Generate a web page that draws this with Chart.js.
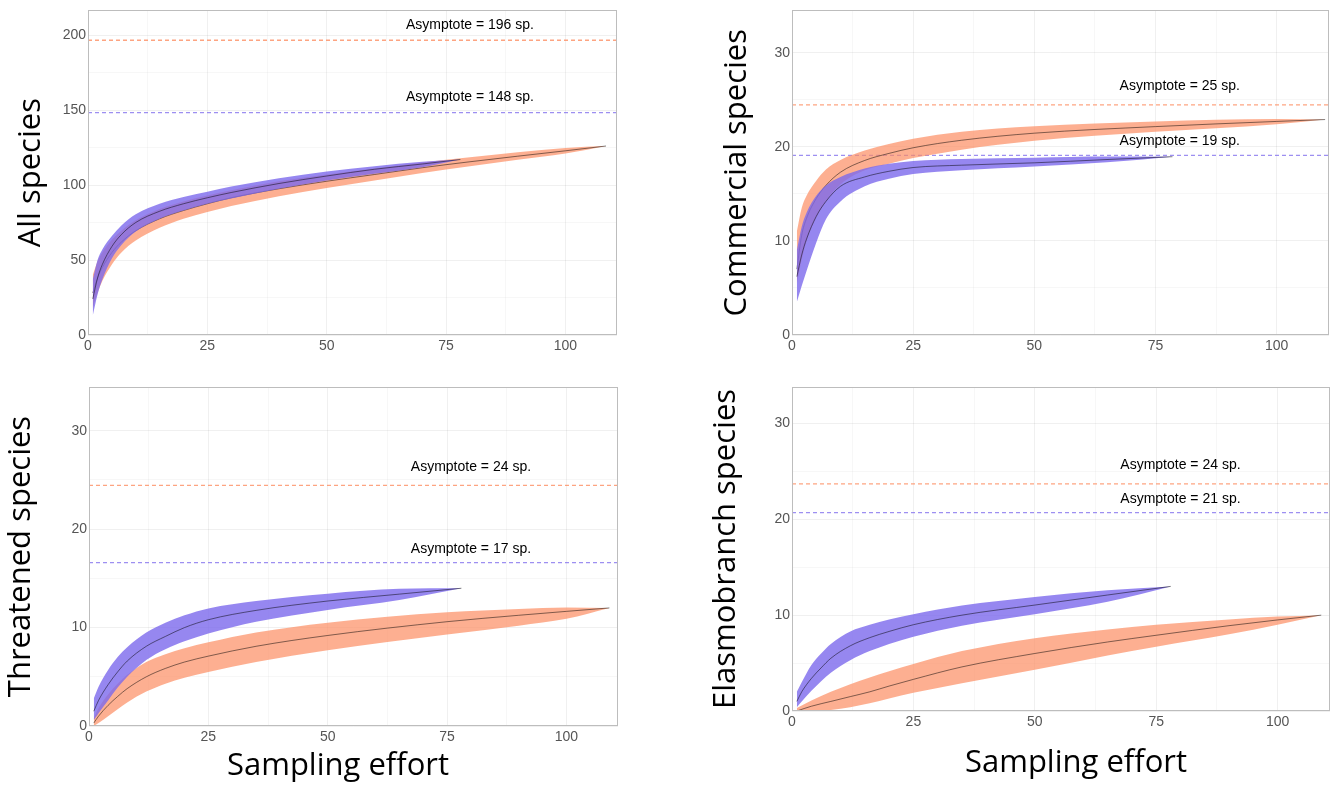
<!DOCTYPE html>
<html>
<head>
<meta charset="utf-8">
<script src="https://cdn.jsdelivr.net/npm/chart.js@4.4.1/dist/chart.umd.min.js"></script>
<style>
  html, body { margin: 0; padding: 0; background: #fff; width: 1336px; height: 785px; overflow: hidden; }
  canvas { position: absolute; }
</style>
</head>
<body>
<canvas id="cAll"></canvas>
<canvas id="cCom"></canvas>
<canvas id="cThr"></canvas>
<canvas id="cEla"></canvas>
<script>
// ---------------- DATA ----------------
// Panel: All species
const allOrangeX   = [1, 2, 3, 5, 7, 10, 15, 20, 25, 30, 40, 50, 60, 70, 80, 90, 100, 108.5];
const allOrangeLo  = [18, 28, 36, 47, 55, 63, 71.5, 77.5, 82, 86, 92.5, 98, 103, 108, 112.5, 116.8, 121, 126];
const allOrangeMid = [28, 38, 45, 55, 62, 69.5, 77.5, 83, 87.5, 91.5, 97.5, 102.5, 107, 111.5, 115.5, 119.2, 122.8, 126];
const allOrangeHi  = [40, 49, 55, 63.5, 69.5, 76.5, 84, 89, 93, 96.5, 102.5, 107, 111, 115, 118.5, 121.8, 124.7, 126];
const allBlueX     = [1, 2, 3, 5, 7, 10, 15, 20, 25, 30, 40, 50, 60, 70, 78];
const allBlueLo    = [13, 27, 37, 51, 60, 69, 77.5, 83, 87.5, 91, 97.5, 103, 107.5, 111.8, 117];
const allBlueMid   = [24, 38, 47, 59, 67, 75, 82.5, 87.5, 91.5, 95, 101, 106, 110.5, 114, 117];
const allBlueHi    = [37, 50, 57, 66, 73, 80.5, 87.5, 92, 95.5, 99, 104.5, 109, 112.5, 115.5, 117];
const allAsymptotes = [196.5, 148.3];               // orange, blue
const allAsymTexts  = ['Asymptote = 196 sp.', 'Asymptote = 148 sp.'];
const allTextX      = [80, 80];
const allTextY      = [206.7, 158.3];

// Panel: Commercial species
const comOrangeX   = [1, 2, 3, 5, 7, 10, 15, 20, 25, 35, 50, 75, 100, 110];
const comOrangeLo  = [5.5, 8, 10, 12.5, 14.2, 16, 17.5, 18.2, 18.8, 19.7, 20.65, 21.6, 22.4, 22.9];
const comOrangeMid = [7, 10.6, 12.4, 14.5, 15.9, 17.3, 18.55, 19.3, 19.9, 20.7, 21.45, 22.15, 22.7, 22.9];
const comOrangeHi  = [11, 13.5, 14.8, 16.4, 17.6, 18.6, 19.6, 20.3, 20.85, 21.6, 22.2, 22.7, 22.95, 22.9];
const comBlueX     = [1, 2, 3, 5, 7, 10, 15, 20, 25, 35, 50, 65, 78.5];
const comBlueLo    = [3.5, 5.2, 6.8, 9.8, 12.3, 14.2, 15.8, 16.6, 17.1, 17.5, 17.9, 18.35, 18.95];
const comBlueMid   = [6.2, 8.5, 10.2, 12.6, 14.2, 15.8, 16.8, 17.4, 17.8, 18.05, 18.3, 18.65, 18.95];
const comBlueHi    = [9, 11.5, 13, 14.8, 15.9, 16.8, 17.7, 18.2, 18.5, 18.7, 18.85, 18.97, 18.95];
const comAsymptotes = [24.45, 19.1];
const comAsymTexts  = ['Asymptote = 25 sp.', 'Asymptote = 19 sp.'];
const comTextX      = [80, 80];
const comTextY      = [26.4, 20.6];

// Panel: Threatened species
const thrOrangeX   = [1, 2, 4, 6, 8, 12, 16, 20, 25, 35, 50, 75, 90, 100, 109];
const thrOrangeLo  = [0, 0.3, 1.0, 1.7, 2.4, 3.5, 4.3, 4.9, 5.5, 6.5, 7.7, 9.3, 10.2, 10.9, 12];
const thrOrangeMid = [0.3, 1.0, 2.1, 3.0, 3.8, 5.0, 5.85, 6.5, 7.1, 8.1, 9.2, 10.6, 11.25, 11.65, 12];
const thrOrangeHi  = [0.8, 1.8, 3.2, 4.3, 5.2, 6.5, 7.3, 7.9, 8.5, 9.5, 10.5, 11.55, 11.9, 12.05, 12];
const thrBlueX     = [1, 2, 4, 6, 8, 12, 16, 20, 25, 35, 50, 65, 78];
const thrBlueLo    = [0.6, 1.3, 2.6, 3.9, 5.0, 6.7, 7.8, 8.6, 9.4, 10.6, 11.8, 12.8, 14];
const thrBlueMid   = [1.5, 2.6, 4.2, 5.5, 6.6, 8.1, 9.1, 10.0, 10.8, 11.75, 12.7, 13.4, 14];
const thrBlueHi    = [2.8, 4.0, 5.7, 7.0, 8.0, 9.5, 10.5, 11.25, 11.95, 12.7, 13.45, 13.95, 14];
const thrAsymptotes = [24.46, 16.6];
const thrAsymTexts  = ['Asymptote = 24 sp.', 'Asymptote = 17 sp.'];
const thrTextX      = [80, 80];
const thrTextY      = [26.35, 18.0];

// Panel: Elasmobranch species
const elaOrangeX   = [1, 4, 8, 12, 16, 20, 25, 35, 50, 65, 75, 90, 100, 109];
const elaOrangeLo  = [0, 0, 0.1, 0.4, 0.8, 1.3, 1.9, 2.9, 4.3, 5.8, 6.7, 8.0, 9.0, 10];
const elaOrangeMid = [0, 0.5, 1.0, 1.5, 2.0, 2.6, 3.3, 4.6, 6.0, 7.2, 7.9, 8.9, 9.5, 10];
const elaOrangeHi  = [0.3, 1.1, 2.0, 2.8, 3.5, 4.15, 4.9, 6.25, 7.6, 8.5, 9.0, 9.55, 9.85, 10];
const elaBlueX     = [1, 2, 4, 6, 8, 12, 16, 20, 25, 35, 50, 65, 78];
const elaBlueLo    = [0.4, 1.0, 2.1, 3.1, 4.0, 5.3, 6.25, 7.0, 7.75, 8.9, 10.1, 11.4, 13];
const elaBlueMid   = [1.0, 2.0, 3.4, 4.5, 5.5, 6.8, 7.65, 8.3, 9.0, 10.0, 11.05, 12.1, 13];
const elaBlueHi    = [2.0, 3.0, 4.8, 6.0, 7.0, 8.3, 9.0, 9.55, 10.1, 11.0, 11.9, 12.6, 13];
const elaAsymptotes = [23.7, 20.7];
const elaAsymTexts  = ['Asymptote = 24 sp.', 'Asymptote = 21 sp.'];
const elaTextX      = [80, 80];
const elaTextY      = [25.65, 22.1];

const yTitles = ['All species', 'Commercial species', 'Threatened species', 'Elasmobranch species'];
const xTitle  = 'Sampling effort';

// ---------------- STYLE ----------------
const X_MAX = 110.8;
const ORANGE_FILL = 'rgba(252,141,98,0.7)';
const BLUE_FILL   = 'rgba(124,105,236,0.8)';
const ORANGE_DASH = 'rgba(252,141,98,0.8)';
const BLUE_DASH   = 'rgba(124,105,236,0.75)';
const MID_LINE    = 'rgba(0,0,0,0.7)';
const TICK_COLOR  = '#555555';
const GRID_MAJOR  = 'rgba(0,0,0,0.06)';
const GRID_MINOR  = 'rgba(0,0,0,0.03)';
const TICK_FONT   = { family: "'Liberation Sans', Arial, sans-serif", size: 14 };
const TITLE_FONT  = { family: "'Open Sans', sans-serif", size: 31 };

function pts(xs, ys) { return xs.map((x, i) => ({ x: x, y: ys[i] })); }

function bandSets(xs, lo, mid, hi, fillColor, base) {
  const common = { pointRadius: 0, cubicInterpolationMode: 'monotone' };
  return [
    Object.assign({ data: pts(xs, lo), borderWidth: 0, borderColor: 'transparent', fill: false, order: base + 2 }, common),
    Object.assign({ data: pts(xs, hi), borderWidth: 0, borderColor: 'transparent', backgroundColor: fillColor, fill: '-1', order: base + 1 }, common),
    Object.assign({ data: pts(xs, mid), borderWidth: 0.7, borderColor: MID_LINE, fill: false, order: base }, common)
  ];
}

function asymSet(v, color) {
  return { data: [{ x: 0, y: v }, { x: X_MAX, y: v }], borderColor: color, borderWidth: 1.3,
           borderDash: [4, 3], pointRadius: 0, fill: false, order: 100 };
}

const framePlugin = {
  id: 'panelFrame',
  afterDatasetsDraw(chart) {
    const { ctx, chartArea: a } = chart;
    ctx.save();
    ctx.strokeStyle = '#bdbdbd';
    ctx.lineWidth = 1;
    ctx.strokeRect(Math.round(a.left) + 0.5, Math.round(a.top) + 0.5,
                   Math.round(a.right - a.left) - 1, Math.round(a.bottom - a.top) - 1);
    ctx.restore();
  }
};

function labelPlugin(texts, xs, ys) {
  return {
    id: 'asymLabels',
    afterDatasetsDraw(chart) {
      const { ctx, scales } = chart;
      ctx.save();
      ctx.font = "14px 'Liberation Sans', Arial, sans-serif";
      ctx.fillStyle = '#000';
      ctx.textAlign = 'center';
      ctx.textBaseline = 'middle';
      texts.forEach((t, i) => ctx.fillText(t, scales.x.getPixelForValue(xs[i]), scales.y.getPixelForValue(ys[i])));
      ctx.restore();
    }
  };
}

function xTitlePlugin(text, px, py) {
  return {
    id: 'xTitle',
    afterDraw(chart) {
      const ctx = chart.ctx;
      ctx.save();
      ctx.font = "31px 'Open Sans', sans-serif";
      ctx.fillStyle = '#000';
      ctx.textAlign = 'center';
      ctx.textBaseline = 'middle';
      ctx.fillText(text, px, py);
      ctx.restore();
    }
  };
}

function makePanel(id, L, d) {
  const cv = document.getElementById(id);
  cv.width = L.w; cv.height = L.h;
  cv.style.left = L.left + 'px'; cv.style.top = L.top + 'px';
  cv.style.width = L.w + 'px'; cv.style.height = L.h + 'px';

  const datasets = [
    asymSet(d.asym[0], ORANGE_DASH),
    asymSet(d.asym[1], BLUE_DASH),
    ...bandSets(d.ox, d.olo, d.omid, d.ohi, ORANGE_FILL, 20),
    ...bandSets(d.bx, d.blo, d.bmid, d.bhi, BLUE_FILL, 10)
  ];

  const plugins = [framePlugin, labelPlugin(d.texts, d.tx, d.ty)];
  if (L.xTitle) plugins.push(xTitlePlugin(xTitle, L.xTitle[0], L.xTitle[1]));

  const yStep = d.yStep;
  new Chart(cv, {
    type: 'line',
    data: { datasets: datasets },
    plugins: plugins,
    options: {
      responsive: false, animation: false, devicePixelRatio: 1,
      layout: { padding: L.pad },
      plugins: { legend: { display: false }, tooltip: { enabled: false } },
      scales: {
        x: {
          type: 'linear', min: 0, max: X_MAX,
          afterFit: (s) => { s.height = L.xh; },
          border: { display: false },
          grid: { drawTicks: false, lineWidth: 1,
                  color: (c) => (c.tick && c.tick.value % 25 === 0) ? GRID_MAJOR : GRID_MINOR },
          ticks: { stepSize: 12.5, includeBounds: false, autoSkip: false, maxRotation: 0, minRotation: 0,
                   padding: 3, color: TICK_COLOR, font: TICK_FONT,
                   callback: (v) => (v % 25 === 0 ? String(v) : '') }
        },
        y: {
          type: 'linear', min: 0, max: d.yMax,
          afterFit: (s) => { s.width = L.yw; },
          border: { display: false },
          grid: { drawTicks: false, lineWidth: 1,
                  color: (c) => (c.tick && c.tick.value % (2 * yStep) === 0) ? GRID_MAJOR : GRID_MINOR },
          ticks: { stepSize: yStep, includeBounds: false, autoSkip: false, padding: 2, color: TICK_COLOR, font: TICK_FONT,
                   callback: (v) => (v % (2 * yStep) === 0 ? String(v) : '') },
          title: { display: true, text: d.yTitle, color: '#000', font: TITLE_FONT,
                   padding: { top: L.yTitlePad, bottom: 0 } }
        }
      }
    }
  });
}

makePanel('cAll',
  { left: 0, top: 0, w: 664, h: 368, pad: { left: 0, top: 10, right: 47, bottom: 0 }, yw: 88, xh: 33, yTitlePad: 12.4 },
  { ox: allOrangeX, olo: allOrangeLo, omid: allOrangeMid, ohi: allOrangeHi,
    bx: allBlueX, blo: allBlueLo, bmid: allBlueMid, bhi: allBlueHi,
    asym: allAsymptotes, texts: allAsymTexts, tx: allTextX, ty: allTextY,
    yMax: 216.4, yStep: 25, yTitle: yTitles[0] });

makePanel('cCom',
  { left: 668, top: 0, w: 668, h: 368, pad: { left: 0, top: 10, right: 7, bottom: 0 }, yw: 124, xh: 33, yTitlePad: 50.9 },
  { ox: comOrangeX, olo: comOrangeLo, omid: comOrangeMid, ohi: comOrangeHi,
    bx: comBlueX, blo: comBlueLo, bmid: comBlueMid, bhi: comBlueHi,
    asym: comAsymptotes, texts: comAsymTexts, tx: comTextX, ty: comTextY,
    yMax: 34.5, yStep: 5, yTitle: yTitles[1] });

makePanel('cThr',
  { left: 0, top: 368, w: 664, h: 417, pad: { left: 0, top: 19, right: 46, bottom: 0 }, yw: 89, xh: 59, yTitlePad: 2.9,
    xTitle: [338, 398] },
  { ox: thrOrangeX, olo: thrOrangeLo, omid: thrOrangeMid, ohi: thrOrangeHi,
    bx: thrBlueX, blo: thrBlueLo, bmid: thrBlueMid, bhi: thrBlueHi,
    asym: thrAsymptotes, texts: thrAsymTexts, tx: thrTextX, ty: thrTextY,
    yMax: 34.45, yStep: 5, yTitle: yTitles[2] });

makePanel('cEla',
  { left: 668, top: 368, w: 668, h: 417, pad: { left: 0, top: 19, right: 6, bottom: 0 }, yw: 124, xh: 74, yTitlePad: 39.9,
    xTitle: [408, 395] },
  { ox: elaOrangeX, olo: elaOrangeLo, omid: elaOrangeMid, ohi: elaOrangeHi,
    bx: elaBlueX, blo: elaBlueLo, bmid: elaBlueMid, bhi: elaBlueHi,
    asym: elaAsymptotes, texts: elaAsymTexts, tx: elaTextX, ty: elaTextY,
    yMax: 33.8, yStep: 5, yTitle: yTitles[3] });
</script>
</body>
</html>
